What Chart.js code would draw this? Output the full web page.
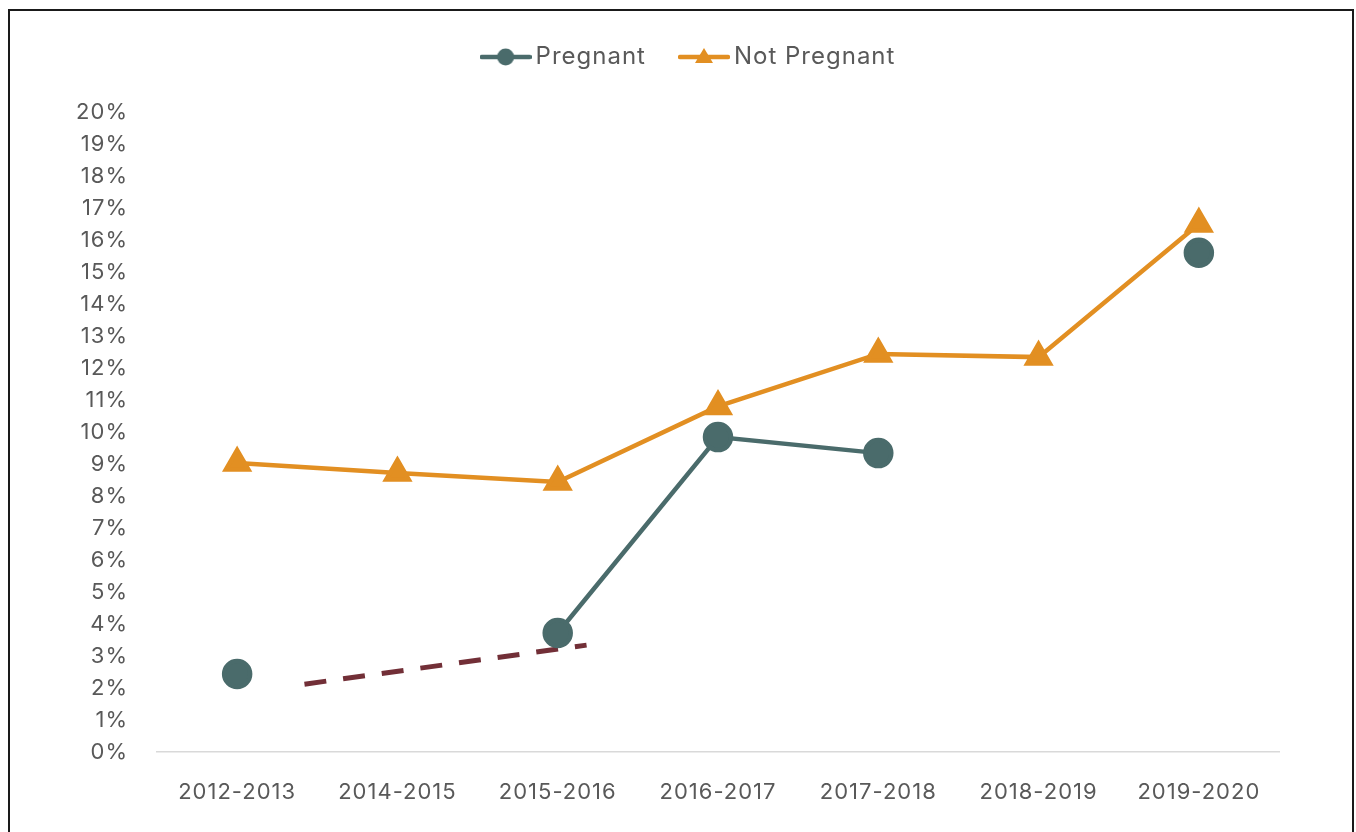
<!DOCTYPE html>
<html>
<head>
<meta charset="utf-8">
<script src="https://cdn.jsdelivr.net/npm/chart.js@4.4.1/dist/chart.umd.min.js"></script>
<style>
  html, body { margin: 0; padding: 0; background: #fff; overflow: hidden; }
  #wrap { position: relative; width: 1356px; height: 832px; }
  #frame {
    position: absolute; left: 8px; top: 9px; width: 1346px; height: 900px;
    box-sizing: border-box; border: 2px solid #1a1a1a; pointer-events: none;
  }
</style>
</head>
<body>
<div id="wrap">
  <canvas id="chart" width="1356" height="832"></canvas>
  <div id="frame"></div>
</div>
<script>
/* ── data ─────────────────────────────────────────────────────── */
const years       = ["2012-2013", "2014-2015", "2015-2016", "2016-2017", "2017-2018", "2018-2019", "2019-2020"];
const pregnant    = [2.44, null, 3.72, 9.84, 9.34, null, 15.6];
const notPregnant = [9.03, 8.72, 8.44, 10.8, 12.44, 12.34, 16.5];
// trend segment for Pregnant, x in category-index units
const trendX      = [0.42, 2.18];
const trendY      = [2.12, 3.34];
const yTicks      = { min: 0, max: 20, step: 1 };

const FONT   = "Inter, 'Open Sans', sans-serif";
const TEXT   = "#595959";
const TEAL   = "#4a6b6b";
const ORANGE = "#e28f22";
const WINE   = "#722f37";

/* ── legend icons: line with marker ──────────────────────────── */
function legendIcon(color, marker) {
    const c = document.createElement("canvas");
    c.width = 52; c.height = 24;
    const g = c.getContext("2d");
    g.strokeStyle = color; g.fillStyle = color;
    g.lineWidth = 4.5; g.lineCap = "round";
    g.beginPath(); g.moveTo(2, 12); g.lineTo(50, 12); g.stroke();
    g.beginPath();
    if (marker === "circle") {
        g.arc(26, 12, 8.5, 0, Math.PI * 2);
    } else {
        g.moveTo(26, 3); g.lineTo(35, 18); g.lineTo(17, 18); g.closePath();
    }
    g.fill();
    return c;
}
const icons = [legendIcon(TEAL, "circle"), legendIcon(ORANGE, "triangle")];

/* ── wider text, closer to the original typeface ─────────────── */
const spacing = {
    id: "spacing",
    beforeLayout(chart) { chart.ctx.letterSpacing = "1px"; },
    beforeDraw(chart)   { chart.ctx.letterSpacing = "1px"; }
};

const legendBox = {
    id: "legendBox",
    beforeInit(chart) {
        const fit = chart.legend.fit;
        chart.legend.fit = function () {
            fit.bind(chart.legend)();
            this.height = 112;
        };
    },
    afterLayout(chart) {
        // centre the legend over the plot rather than the canvas, a bit lower
        chart.legend.left   += 52;
        chart.legend.right  += 52;
        chart.legend.top    += 5;
        chart.legend.bottom += 5;
    }
};

/* ── chart ───────────────────────────────────────────────────── */
new Chart(document.getElementById("chart"), {
    type: "line",
    data: {
        labels: years,
        datasets: [
            {
                label: "Pregnant",
                data: pregnant,
                borderColor: TEAL,
                backgroundColor: TEAL,
                borderWidth: 4.5,
                pointStyle: "circle",
                pointRadius: 13,
                pointHoverRadius: 13,
                spanGaps: false,
                order: 1
            },
            {
                label: "Not Pregnant",
                data: notPregnant,
                borderColor: ORANGE,
                backgroundColor: ORANGE,
                borderWidth: 4.5,
                pointStyle: "triangle",
                pointRadius: 13,
                pointHoverRadius: 13,
                order: 2
            },
            {
                label: "trend",
                data: trendX.map((x, i) => ({ x, y: trendY[i] })),
                xAxisID: "x2",
                borderColor: WINE,
                borderWidth: 5,
                borderDash: [22, 17],
                pointRadius: 0,
                order: 3
            }
        ]
    },
    options: {
        responsive: false,
        animation: false,
        layout: { padding: { top: 0, right: 77, bottom: 0, left: 0 } },
        plugins: {
            tooltip: { enabled: false },
            legend: {
                position: "top",
                labels: {
                    font: { family: FONT, size: 24 },
                    color: TEXT,
                    padding: 40,
                    usePointStyle: true,
                    pointStyleWidth: 36,
                    generateLabels: chart => chart.data.datasets.slice(0, 2).map((ds, i) => ({
                        text: ds.label,
                        pointStyle: icons[i],
                        fillStyle: ds.borderColor,
                        strokeStyle: ds.borderColor,
                        lineWidth: 0,
                        fontColor: TEXT,
                        datasetIndex: i
                    }))
                }
            }
        },
        scales: {
            x: {
                type: "category",
                offset: true,
                grid: { display: false, drawTicks: false },
                border: { color: "#d9d9d9", width: 1.5 },
                ticks: { font: { family: FONT, size: 22 }, color: TEXT, padding: 27, maxRotation: 0 },
                afterFit: s => { s.height = 80; }
            },
            x2: {
                type: "linear",
                display: false,
                min: -0.5,
                max: years.length - 0.5
            },
            y: {
                min: yTicks.min,
                max: yTicks.max,
                grid: { display: false, drawTicks: false },
                border: { display: false },
                ticks: {
                    stepSize: yTicks.step,
                    font: { family: FONT, size: 22 },
                    color: TEXT,
                    padding: 29,
                    callback: v => v + "%"
                },
                afterFit: s => { s.width = 157; }
            }
        }
    },
    plugins: [spacing, legendBox]
});
</script>
</body>
</html>
